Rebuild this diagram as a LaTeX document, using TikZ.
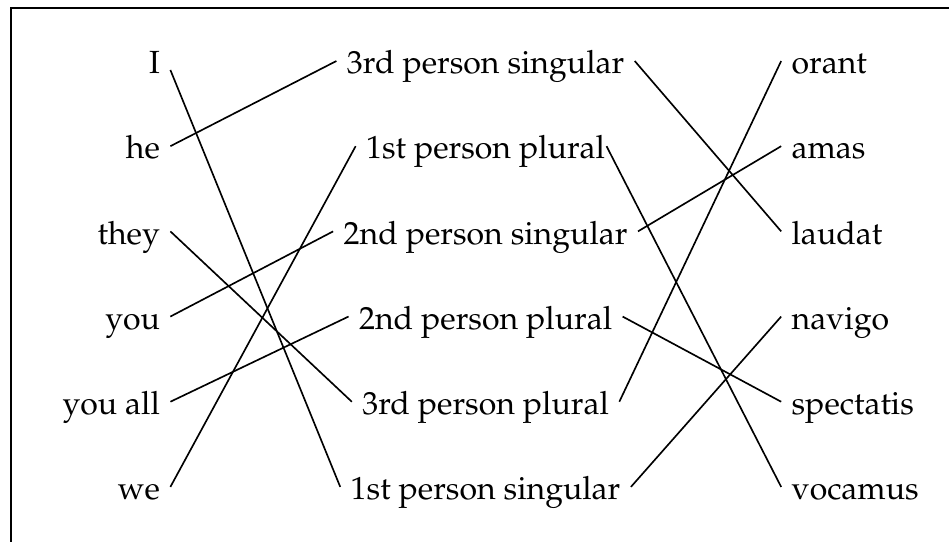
\documentclass[tikz,border=0pt]{standalone}
\usepackage[T1]{fontenc}
\usepackage{mathpazo}
\usepackage{tikz}
\usetikzlibrary{positioning}
\tikzset{word/.style={inner sep=3.3pt, text height=8.5pt, text depth=0pt,
    font=\fontsize{10.7pt}{12pt}\selectfont}}
\tikzset{match/.style={line width=0.55pt}}

\begin{document}
\begin{tikzpicture}
    \useasboundingbox (0,0) rectangle (11.14,-6.36);
    \draw[line width=0.7pt] (0.129,-6.36) |- (11.14,-0.097);

    % pronouns
    \node[word, anchor=east] (I) at (2.0,-0.716) {I};
    \node[word, below=1cm of I.east, anchor=east] (he) {he};
    \node[word, below=1cm of he.east, anchor=east] (they) {they};
    \node[word, below=1cm of they.east, anchor=east] (you) {you};
    \node[word, below=1cm of you.east, anchor=east] (youall) {you all};
    \node[word, below=1cm of youall.east, anchor=east] (we) {we};

    % persons
    \node[word] (p3s) at (5.70,-0.716) {3rd person singular};
    \node[word, below=1cm of p3s.center, anchor=center] (p1p) {1st person plural};
    \node[word, below=1cm of p1p.center, anchor=center] (p2s) {2nd person singular};
    \node[word, below=1cm of p2s.center, anchor=center] (p2p) {2nd person plural};
    \node[word, below=1cm of p2p.center, anchor=center] (p3p) {3rd person plural};
    \node[word, below=1cm of p3p.center, anchor=center] (p1s) {1st person singular};

    % verbs
    \node[word, anchor=west] (orant) at (9.17,-0.716) {orant};
    \node[word, below=1cm of orant.west, anchor=west] (amas) {amas};
    \node[word, below=1cm of amas.west, anchor=west] (laudat) {laudat};
    \node[word, below=1cm of laudat.west, anchor=west] (navigo) {navigo};
    \node[word, below=1cm of navigo.west, anchor=west] (spectatis) {spectatis};
    \node[word, below=1cm of spectatis.west, anchor=west] (vocamus) {vocamus};

    \draw[match] ([yshift=-3pt]I.east) -- (p1s.west);
    \draw[match] (he.east) -- (p3s.west);
    \draw[match] (they.east) -- (p3p.west);
    \draw[match] (you.east) -- (p2s.west);
    \draw[match] (youall.east) -- (p2p.west);
    \draw[match] (we.east) -- (p1p.west);

    \draw[match] (p3s.east) -- (laudat.west);
    \draw[match] ([xshift=-3pt]p1p.east) -- (vocamus.west);
    \draw[match] (p2s.east) -- (amas.west);
    \draw[match] (p2p.east) -- (spectatis.west);
    \draw[match] (p3p.east) -- (orant.west);
    \draw[match] (p1s.east) -- (navigo.west);
  \end{tikzpicture}
\end{document}
